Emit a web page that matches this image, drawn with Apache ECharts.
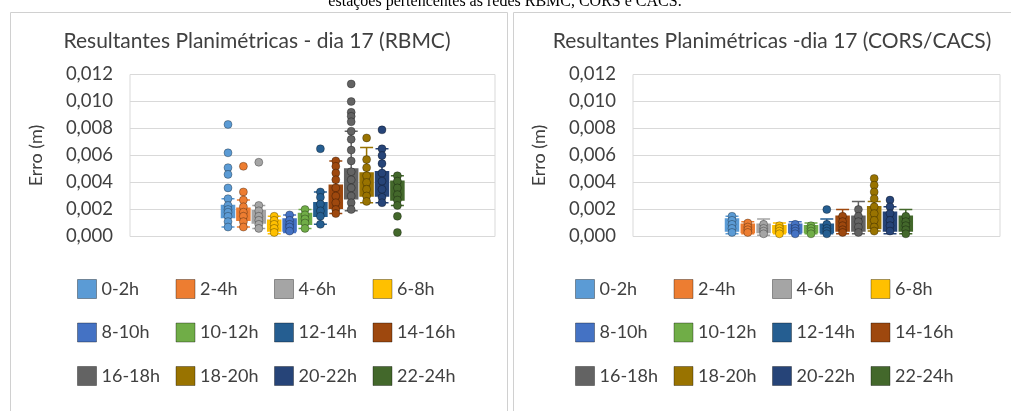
<!DOCTYPE html>
<html lang="pt">
<head>
<meta charset="UTF-8">
<title>Resultantes Planimétricas - dia 17</title>
<style>
html, body { margin: 0; padding: 0; background: #fff; }
#main { width: 1011px; height: 411px; }
</style>
</head>
<body>
<div id="main"></div>
<script src="https://cdn.jsdelivr.net/npm/echarts@6/dist/echarts.min.js"></script>
<script>
// intervalos de 2h (legenda)
const horas = ['0-2h', '2-4h', '4-6h', '6-8h', '8-10h', '10-12h', '12-14h', '14-16h', '16-18h', '18-20h', '20-22h', '22-24h'];
const cores = ['#5B9BD5', '#ED7D31', '#A5A5A5', '#FFC000', '#4472C4', '#70AD47', '#255E91', '#9E480E', '#636363', '#997300', '#264478', '#43682B'];
const yTicks = [0, 0.002, 0.004, 0.006, 0.008, 0.010, 0.012];

// RBMC: [min, Q1, mediana, Q3, max]
const rbmcCaixas = [
  [0.0007, 0.0014, 0.0018, 0.0023, 0.0028],
  [0.0007, 0.0012, 0.0016, 0.0021, 0.0027],
  [0.0006, 0.0010, 0.0014, 0.0019, 0.0023],
  [0.0002, 0.0004, 0.0007, 0.0012, 0.0015],
  [0.0003, 0.0004, 0.0009, 0.0013, 0.0016],
  [0.0006, 0.0009, 0.0013, 0.0017, 0.0020],
  [0.0009, 0.0015, 0.0019, 0.0025, 0.0033],
  [0.0017, 0.0021, 0.0030, 0.0038, 0.0056],
  [0.0019, 0.0028, 0.0040, 0.0050, 0.0078],
  [0.0025, 0.0030, 0.0039, 0.0047, 0.0066],
  [0.0025, 0.0030, 0.0040, 0.0048, 0.0065],
  [0.0023, 0.0027, 0.0034, 0.0041, 0.0045]
];
const rbmcPontos = [
  [0.0083, 0.0062, 0.0051, 0.0046, 0.0036, 0.0028, 0.0023, 0.0020, 0.0018, 0.0015, 0.0011, 0.0007],
  [0.0052, 0.0033, 0.0027, 0.0022, 0.0018, 0.0015, 0.0011, 0.0007],
  [0.0055, 0.0023, 0.0019, 0.0015, 0.0012, 0.0009, 0.0006],
  [0.0015, 0.0012, 0.0009, 0.0006, 0.0003],
  [0.0016, 0.0012, 0.0009, 0.0007, 0.0004],
  [0.0020, 0.0016, 0.0013, 0.0010, 0.0006],
  [0.0065, 0.0033, 0.0029, 0.0024, 0.0019, 0.0015, 0.0009],
  [0.0056, 0.0052, 0.0047, 0.0042, 0.0036, 0.0030, 0.0025, 0.0020, 0.0017],
  [0.0113, 0.0100, 0.0092, 0.0089, 0.0085, 0.0078, 0.0072, 0.0064, 0.0056, 0.0048, 0.0042, 0.0036, 0.0030, 0.0025, 0.0020],
  [0.0073, 0.0057, 0.0051, 0.0045, 0.0040, 0.0035, 0.0030, 0.0026],
  [0.0079, 0.0065, 0.0060, 0.0054, 0.0047, 0.0041, 0.0035, 0.0029, 0.0025],
  [0.0045, 0.0041, 0.0036, 0.0031, 0.0027, 0.0023, 0.0015, 0.0003]
];

// CORS/CACS
const corsCaixas = [
  [0.0002, 0.0004, 0.0009, 0.0013, 0.0015],
  [0.0002, 0.0003, 0.0006, 0.0009, 0.0011],
  [0.0001, 0.0003, 0.0005, 0.0009, 0.0013],
  [0.0002, 0.0003, 0.0005, 0.0008, 0.0010],
  [0.0002, 0.0003, 0.0005, 0.0009, 0.0011],
  [0.0002, 0.0003, 0.0005, 0.0008, 0.0010],
  [0.0002, 0.0003, 0.0005, 0.0009, 0.0013],
  [0.0002, 0.0004, 0.0009, 0.0015, 0.0020],
  [0.0002, 0.0004, 0.0009, 0.0015, 0.0026],
  [0.0004, 0.0006, 0.0012, 0.0022, 0.0026],
  [0.0002, 0.0004, 0.0010, 0.0018, 0.0022],
  [0.0002, 0.0004, 0.0008, 0.0015, 0.0020]
];
const corsPontos = [
  [0.0015, 0.0012, 0.0009, 0.0006, 0.0003],
  [0.0010, 0.0007, 0.0005, 0.0003],
  [0.0009, 0.0006, 0.0004, 0.0002],
  [0.0008, 0.0006, 0.0004, 0.0002],
  [0.0009, 0.0006, 0.0004, 0.0002],
  [0.0008, 0.0006, 0.0004, 0.0002],
  [0.0020, 0.0009, 0.0006, 0.0004, 0.0002],
  [0.0015, 0.0011, 0.0008, 0.0005, 0.0003],
  [0.0020, 0.0015, 0.0011, 0.0007, 0.0003],
  [0.0043, 0.0038, 0.0033, 0.0028, 0.0022, 0.0017, 0.0012, 0.0007, 0.0004],
  [0.0027, 0.0022, 0.0017, 0.0012, 0.0008, 0.0004],
  [0.0015, 0.0011, 0.0008, 0.0005, 0.0002]
];

const fonte = 'Lato, "Open Sans", sans-serif';

const paineis = [
  { titulo: 'Resultantes Planimétricas - dia 17 (RBMC)', caixas: rbmcCaixas, pontos: rbmcPontos,
    plotLeft: 130, plotWidth: 365, primeiro: 228, passo: 15.4, legLeft: 77, tituloX: 252 },
  { titulo: 'Resultantes Planimétricas -dia 17 (CORS/CACS)', caixas: corsCaixas, pontos: corsPontos,
    plotLeft: 633, plotWidth: 367, primeiro: 732, passo: 15.8, legLeft: 575, tituloX: 767 }
];

const plotTop = 74.5, plotH = 162;
const grid = [], xAxis = [], yAxis = [], series = [], legend = [], title = [];

paineis.forEach(p => {
  title.push({
    text: p.titulo, left: p.tituloX, top: 26, textAlign: 'center',
    textStyle: { fontFamily: fonte, fontSize: 21, fontWeight: 'normal', color: '#404040' }
  });

  // grade de fundo com eixo Y
  const g = grid.length;
  grid.push({ left: p.plotLeft, top: plotTop, width: p.plotWidth, height: plotH, show: true, borderColor: '#d9d9d9', borderWidth: 1 });
  xAxis.push({ gridIndex: g, type: 'category', data: [''], show: false });
  yAxis.push({
    gridIndex: g, type: 'value', min: yTicks[0], max: yTicks[yTicks.length - 1], interval: 0.002,
    name: 'Erro (m)', nameLocation: 'middle', nameGap: 85, nameRotate: 90,
    nameTextStyle: { fontFamily: fonte, fontSize: 18, color: '#404040' },
    axisLine: { show: false }, axisTick: { show: false },
    axisLabel: { margin: 17, fontFamily: fonte, fontSize: 18.5, color: '#404040',
      formatter: v => v.toFixed(3).replace('.', ',') },
    splitLine: { lineStyle: { color: '#d9d9d9', width: 1 } }
  });

  // uma grade estreita por intervalo, para posicionar as caixas lado a lado
  horas.forEach((h, i) => {
    const gi = grid.length;
    const cx = p.primeiro + i * p.passo;
    grid.push({ left: cx - p.passo / 2, top: plotTop, width: p.passo, height: plotH });
    xAxis.push({ gridIndex: gi, type: 'category', data: [h], show: false });
    yAxis.push({ gridIndex: gi, type: 'value', min: 0, max: 0.012, show: false });

    series.push({
      type: 'boxplot', name: h, xAxisIndex: gi, yAxisIndex: gi, boxWidth: [13, 13], silent: true,
      data: [p.caixas[i]],
      itemStyle: { color: cores[i], borderColor: cores[i], borderWidth: 1.5 }
    });
    series.push({
      type: 'scatter', name: h, xAxisIndex: gi, yAxisIndex: gi, symbolSize: 8, silent: true, z: 3,
      data: p.pontos[i].map(v => [0, v]),
      itemStyle: { color: cores[i], borderColor: 'rgba(0,0,0,0.3)', borderWidth: 1, opacity: 1 }
    });

    legend.push({
      data: [{ name: h, itemStyle: { color: cores[i], borderColor: 'rgba(0,0,0,0.35)', borderWidth: 1 } }],
      left: p.legLeft + (i % 4) * 98.5, top: 279 + Math.floor(i / 4) * 43.5,
      icon: 'rect', itemWidth: 19, itemHeight: 19, itemGap: 0, padding: 0, selectedMode: false,
      textStyle: { fontFamily: fonte, fontSize: 18, color: '#404040' }
    });
  });
});

const myChart = echarts.init(document.getElementById('main'), null, { renderer: 'canvas' });
myChart.setOption({
  animation: false,
  backgroundColor: '#ffffff',
  title, grid, xAxis, yAxis, series, legend,
  graphic: [
    { type: 'rect', shape: { x: 10.5, y: 12.5, width: 497, height: 420 }, style: { fill: 'none', stroke: '#d0d0d0', lineWidth: 1 } },
    { type: 'rect', shape: { x: 513.5, y: 12.5, width: 520, height: 420 }, style: { fill: 'none', stroke: '#d0d0d0', lineWidth: 1 } },
    { type: 'text', x: 505, y: 10,
      style: { text: 'estações pertencentes às redes RBMC, CORS e CACS.', align: 'center', verticalAlign: 'bottom',
        font: '16px "Liberation Serif", serif', fill: '#000' } }
  ]
});

window.onresize = function () {
  myChart.resize();
};
</script>
</body>
</html>
